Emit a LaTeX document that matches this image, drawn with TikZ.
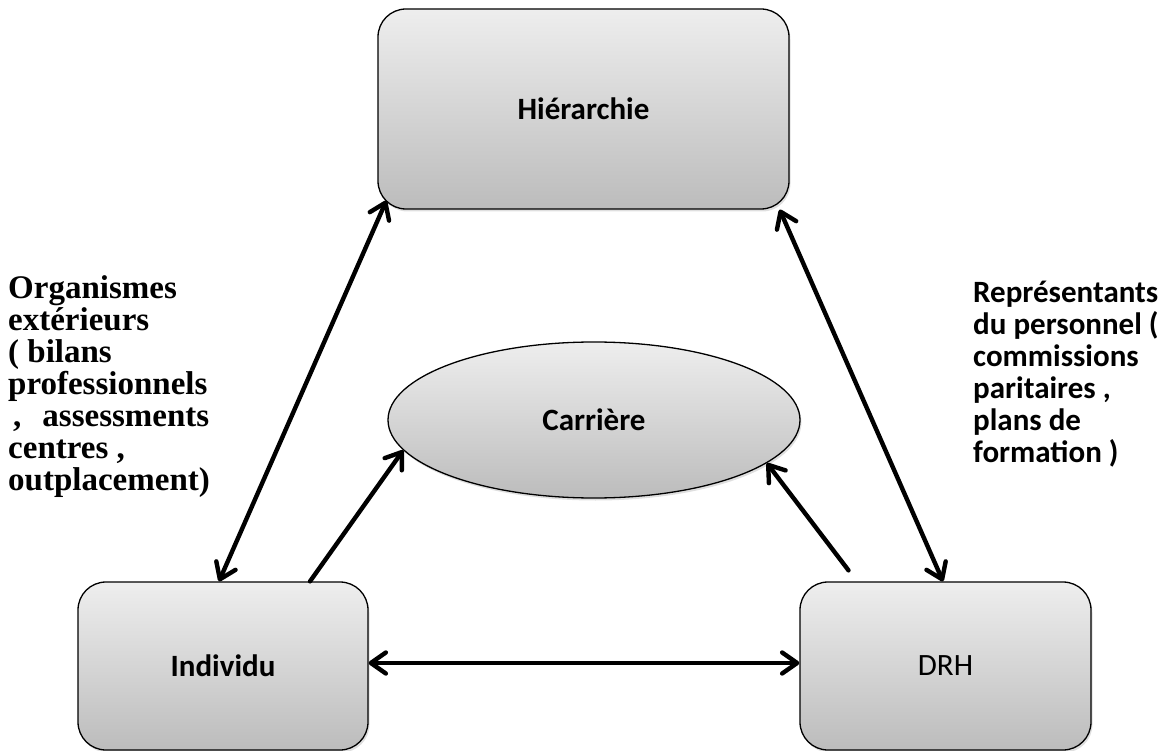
\documentclass[tikz,border=0pt]{standalone}
\usepackage{fontspec}
\setmainfont{Carlito}
\newfontfamily\timesbold{Liberation Serif}
\usetikzlibrary{arrows.meta,shapes.geometric,shadows,calc}

\definecolor{boxtop}{RGB}{238,238,238}
\definecolor{boxbot}{RGB}{188,188,188}

\begin{document}
\begin{tikzpicture}[x=1pt,y=-1pt,
  node font=\fontsize{31}{36}\selectfont,
  softshadow/.style={drop shadow={opacity=0.25,shadow xshift=1.5pt,shadow yshift=-2.5pt}},
  box/.style={draw=black, line width=1.3pt, rounded corners=28pt,
    top color=boxtop, bottom color=boxbot, softshadow, inner sep=0pt},
  oval/.style={ellipse, draw=black, line width=1.3pt,
    top color=boxtop, bottom color=boxbot, softshadow, inner sep=0pt},
  tip/.tip={Straight Barb[length=15pt,width=21pt,round]},
  twoway/.style={line width=4.4pt, line cap=round, tip-tip},
  oneway/.style={line width=4.4pt, line cap=round, -tip},
  note/.style={anchor=base west, align=left, inner sep=0pt}
]
\useasboundingbox (0,0) rectangle (1173,751);

% the four actors
\node[box, minimum width=411pt, minimum height=200pt] (hier) at (583.5,109) {\textbf{Hiérarchie}};
\node[box, minimum width=290pt, minimum height=168pt] (ind) at (223,666) {\textbf{Individu}};
\node[box, minimum width=291pt, minimum height=168pt] (drh) at (945.5,666) {DRH};
\node[oval, minimum width=412pt, minimum height=156pt] (car) at (594,420) {\textbf{Carrière}};

% side notes (base anchor sits on the last line)
\node[note, font=\timesbold\bfseries\fontsize{33}{32}\selectfont] (ext) at (8,490)
  {Organismes\\extérieurs\\( bilans\\professionnels\\\hspace*{5pt},\hspace{21pt}assessments\\centres ,\\outplacement)};
\node[note, font=\bfseries\fontsize{31}{32}\selectfont] (rep) at (973,462)
  {Représentants\\du personnel (\\commissions\\paritaires ,\\plans de\\formation )};

% exchanges
\draw[twoway] ([xshift=-4pt]ind.north) -- ([xshift=9pt,yshift=9pt]hier.south west);
\draw[twoway] ([xshift=-2.5pt]drh.north) -- ([xshift=-10pt]hier.south east);
\draw[twoway] ([yshift=3pt]ind.east) -- ([yshift=3pt]drh.west);
\draw[oneway] ([xshift=87pt]ind.north) -- (car.189);
\draw[oneway] ([xshift=-97pt,yshift=11pt]drh.north) -- (car.346);
\end{tikzpicture}
\end{document}
